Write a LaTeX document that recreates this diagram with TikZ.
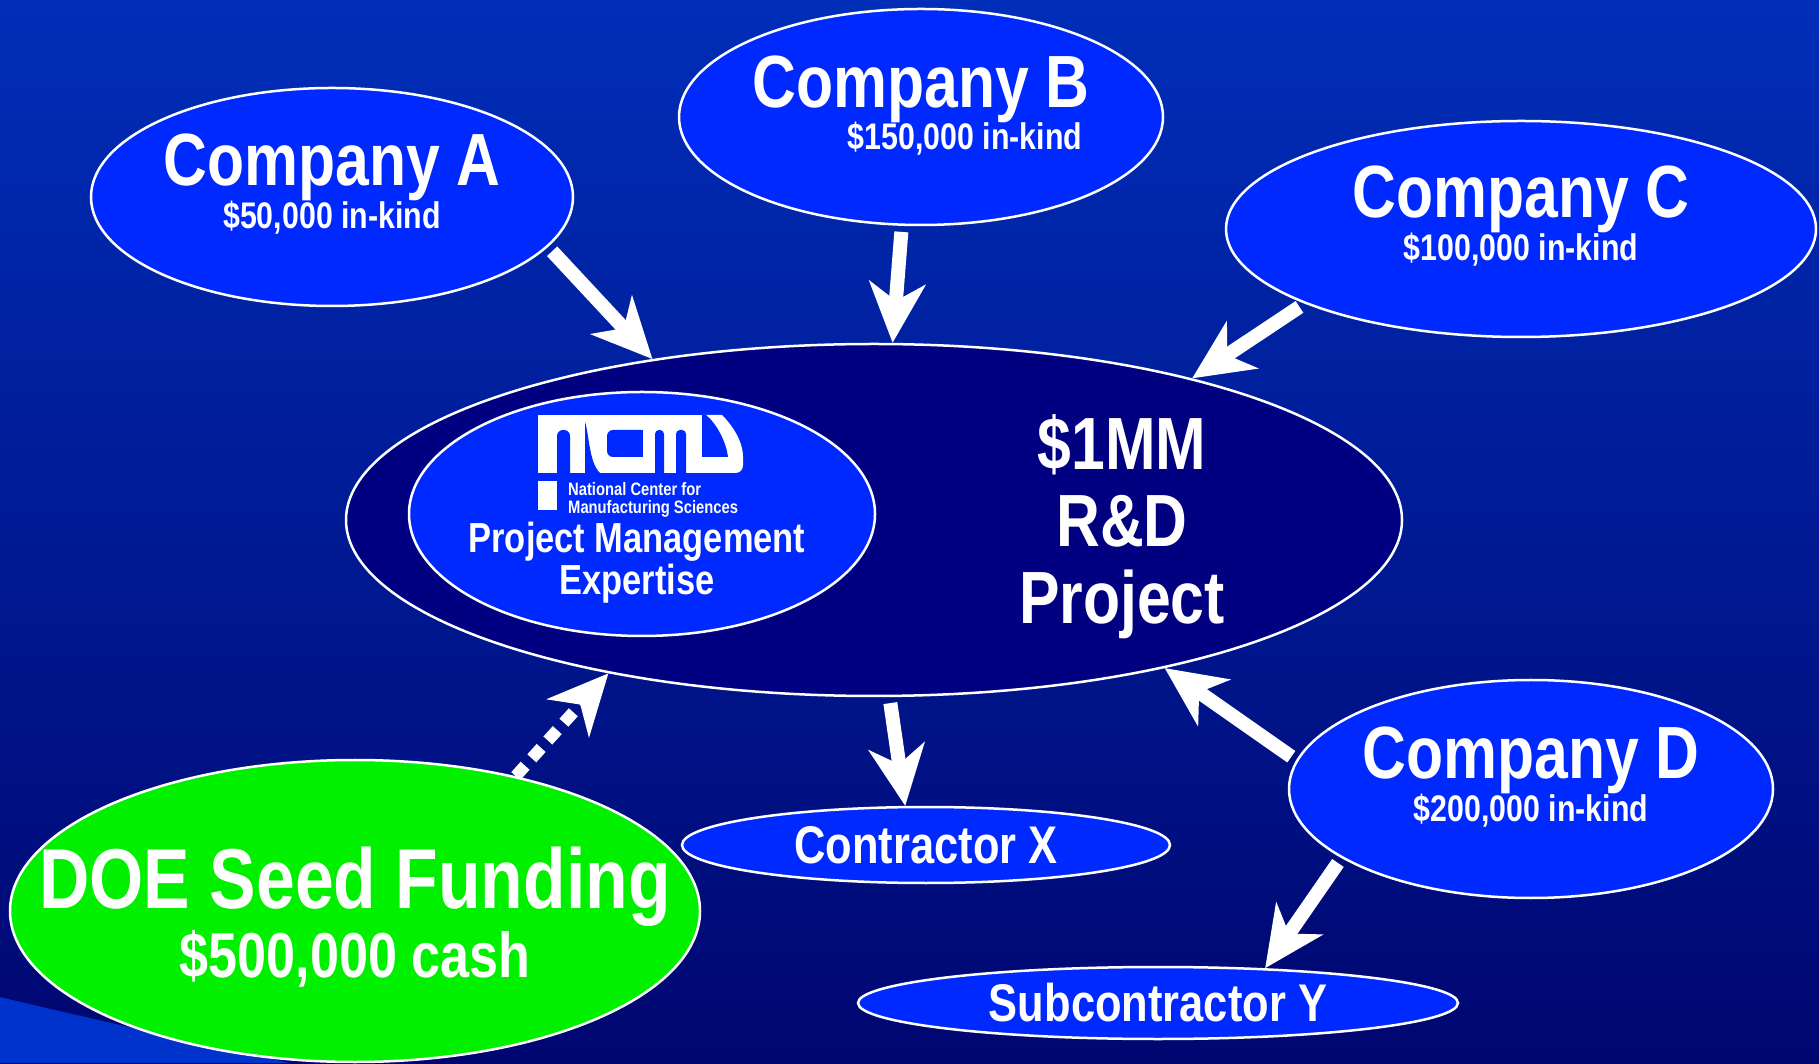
\documentclass[tikz,border=0pt]{standalone}
\usepackage{fontspec}
\newfontfamily\narrowfont{Liberation Sans}[FakeStretch=0.82]
\usetikzlibrary{shapes.geometric, arrows.meta, backgrounds}
\definecolor{slidetop}{RGB}{0,46,184}
\definecolor{slidebottom}{RGB}{0,6,112}
\definecolor{swoosh}{RGB}{0,51,204}
\definecolor{nodeblue}{RGB}{0,41,255}
\definecolor{projnavy}{RGB}{0,0,128}
\definecolor{seedgreen}{RGB}{0,240,0}

\begin{document}
\begin{tikzpicture}[x=1pt, y=1pt,
company/.style={ellipse, draw=white, line width=2.5pt, fill=nodeblue, inner sep=0, text=white},
title/.style={text=white, inner sep=0, anchor=base, font=\narrowfont\bfseries\fontsize{74}{80}\selectfont},
amount/.style={text=white, inner sep=0, anchor=base, font=\narrowfont\bfseries\fontsize{37}{40}\selectfont},
counter/.style={fill=nodeblue, rounded corners=6pt},
flow/.style={draw=white, line width=14pt, shorten <=6pt, -{Stealth[length=60pt, width=56pt, inset=18pt]}}
]
\useasboundingbox (0,0) rectangle (1819,1063);
\begin{scope}[on background layer]
\shade[top color=slidetop, bottom color=slidebottom] (0,0) rectangle (1819,1063);
\fill[swoosh] (0,66) .. controls (100,42) and (200,20) .. (290,0) -- (0,0) -- cycle;
\end{scope}

% partners
\node[company, minimum width=482pt, minimum height=218pt] (compA) at (332,866) {};
\node[title] (compA-name) at ([yshift=11.5pt]compA.center) {Company A};
\node[amount] (compA-sum) at ([yshift=-32pt]compA.center) {\$50,000 in-kind};

\node[company, minimum width=484pt, minimum height=216pt] (compB) at (921,946) {};
\node[title] (compB-name) at ([yshift=9.5pt]compB.center) {Company B};
\node[amount] (compB-sum) at ([xshift=44pt, yshift=-33pt]compB.center) {\$150,000 in-kind};

\node[company, minimum width=590pt, minimum height=216pt] (compC) at (1521,834) {};
\node[title] (compC-name) at ([yshift=11.5pt]compC.center) {Company C};
\node[amount] (compC-sum) at ([yshift=-32pt]compC.center) {\$100,000 in-kind};

\node[company, minimum width=484pt, minimum height=218pt] (compD) at (1531,274) {};
\node[title] (compD-name) at ([yshift=10.5pt]compD.center) {Company D};
\node[amount] (compD-sum) at ([yshift=-33pt]compD.center) {\$200,000 in-kind};

% project
\node[company, fill=projnavy, minimum width=1056pt, minimum height=352pt] (project) at (874,543) {};
\node[text=white, align=center, inner sep=0, font=\narrowfont\bfseries\fontsize{74}{77}\selectfont] (project-label) at (1122,536) {\$1MM\\R\&D\\Project};

\node[company, minimum width=466pt, minimum height=244pt] (ncms) at (642,549) {};
% logo
\fill[white] (538,590) rectangle (703,648);
\fill[white] (703,648) -- (722,648) .. controls (732,638) and (743,622) .. (743,606) -- (743,598) .. controls (743,593) and (740,590) .. (735,590) -- (703,590) -- cycle;
\fill[counter] (557,590) -- (557,633) -- (570,633) -- (570,590);
\fill[nodeblue] (585,590) -- (585,641) .. controls (589,630) and (589,600) .. (600,590) -- cycle;
\fill[counter] (641,606) -- (607,606) -- (607,633) -- (641,633);
\fill[nodeblue] (641,606) rectangle (643,633);
\fill[counter, rounded corners=4pt] (655,590) -- (655,633) -- (664,633) -- (664,590);
\fill[counter, rounded corners=4pt] (676,590) -- (676,633) -- (686,633) -- (686,590);
\fill[nodeblue] (702,648) -- (706,648) .. controls (716,640) and (726,622) .. (728,606) -- (702,606) -- cycle;
\fill[white] (538,553) rectangle (557,582);
\node[anchor=west, align=left, inner sep=0, text=white, font=\narrowfont\bfseries\fontsize{18}{18}\selectfont] (ncms-name) at (568,563.5) {National Center for\\Manufacturing Sciences};
\node[text=white, align=center, inner sep=0, font=\narrowfont\bfseries\fontsize{42}{42}\selectfont] (ncms-role) at (637,500) {Project Management\\Expertise};

% contractors
\node[company, minimum width=488pt, minimum height=76pt, font=\narrowfont\bfseries\fontsize{53}{56}\selectfont] (contrX) at (926,218) {Contractor X};
\node[company, minimum width=600pt, minimum height=72pt, font=\narrowfont\bfseries\fontsize{53}{56}\selectfont] (subY) at (1158,60) {Subcontractor Y};

% seed funding
\node[company, fill=seedgreen, minimum width=690pt, minimum height=302pt] (doe) at (355,152) {};
\node[title, font=\narrowfont\bfseries\fontsize{85}{90}\selectfont] (doe-name) at ([yshift=2.6pt]doe.center) {DOE Seed Funding};
\node[title, font=\narrowfont\bfseries\fontsize{63.5}{68}\selectfont] (doe-sum) at ([yshift=-66.7pt]doe.center) {\$500,000 cash};

\draw[flow] (compA.-13) -- (project.144);
\draw[flow] (compB.-100) -- (project.84);
\draw[flow] (compC.-161) -- (project.24);
\draw[flow] (compD.173) -- (project.-27);
\draw[flow] (project.-85) -- (contrX.118);
\draw[flow] (compD.-160) -- (subY.18);
\begin{scope}[on background layer]
\draw[flow, line width=12pt, shorten <=0pt, dash pattern=on 14pt off 10pt] (doe.40) -- (project.-150);
\end{scope}
\end{tikzpicture}
\end{document}
